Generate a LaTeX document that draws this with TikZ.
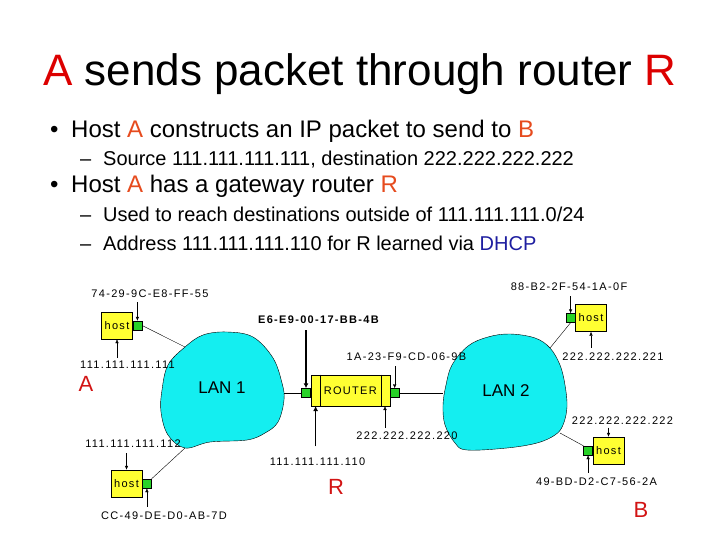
\documentclass[tikz,border=0pt]{standalone}
\usepackage{fontspec}
\setmainfont{Liberation Sans}
\newfontfamily\lblfont[LetterSpace=12]{Liberation Sans}
\usetikzlibrary{arrows.meta, positioning}
\definecolor{titlered}{RGB}{220,0,0}
\definecolor{hilite}{RGB}{230,75,30}
\definecolor{dhcpblue}{RGB}{30,30,160}
\definecolor{lanfill}{RGB}{20,238,240}
\definecolor{boxyellow}{RGB}{255,255,50}
\definecolor{nicgreen}{RGB}{40,210,40}
\definecolor{markred}{RGB}{210,20,20}
\tikzset{
  hostbox/.style={rectangle, draw=black, fill=boxyellow,
    minimum width=31pt, minimum height=27pt, inner sep=0pt,
    font=\lblfont\fontsize{11}{13}\selectfont},
  nic/.style={rectangle, draw=black, fill=nicgreen,
    minimum size=9pt, inner sep=0pt},
  addr/.style={font=\lblfont\fontsize{11}{13}\selectfont, inner sep=1pt},
  tip/.style={-{Latex[length=4pt,width=3.5pt]}, thin},
  bigtip/.style={-{Latex[length=5pt,width=5pt]}, line width=1.6pt},
  wire/.style={thin},
  lan/.style={draw=black, fill=lanfill, thin},
  redmark/.style={text=markred, font=\fontsize{22}{26}\selectfont},
  item/.style={anchor=base west, inner sep=0pt, font=\fontsize{24}{28}\selectfont},
  subitem/.style={anchor=base west, inner sep=0pt, font=\fontsize{20}{24}\selectfont},
}

\begin{document}
\begin{tikzpicture}[x=1pt, y=-1pt]
  \useasboundingbox (0,0) rectangle (720,540);

  % title and bullets
  \node[anchor=base west, inner sep=0pt, font=\fontsize{44}{50}\selectfont] (title) at (43,86)
    {\textcolor{titlered}{A} sends packet through router \textcolor{titlered}{R}};
  \node[item] (b1) at (50,138)
    {\makebox[21pt][l]{\textbullet}Host \textcolor{hilite}{A} constructs an IP packet to send to \textcolor{hilite}{B}};
  \node[subitem] (s1) at (80,166)
    {\makebox[23pt][l]{--}Source 111.111.111.111, destination 222.222.222.222};
  \node[item] (b2) at (50,193)
    {\makebox[21pt][l]{\textbullet}Host \textcolor{hilite}{A} has a gateway router \textcolor{hilite}{R}};
  \node[subitem] (s2) at (80,222)
    {\makebox[23pt][l]{--}Used to reach destinations outside of 111.111.111.0/24};
  \node[subitem] (s3) at (80,251)
    {\makebox[23pt][l]{--}Address 111.111.111.110 for R learned via \textcolor{dhcpblue}{DHCP}};

  % the two LANs
  \draw[lan] plot[smooth cycle, tension=0.6] coordinates {
    (185,347) (203,335) (227,332) (253,337) (273,358) (282,383) (284,400)
    (278,422) (265,433) (247,440) (210,442) (185,448) (168,435) (161,412)
    (162,390) (168,365)};
  \draw[lan] plot[smooth cycle, tension=0.6] coordinates {
    (510,334) (535,338) (550,348) (560,365) (565,385) (567,407) (563,425)
    (555,435) (537,443) (507,448) (467,450) (455,443) (445,425) (443,405)
    (446,385) (452,365) (468,346) (488,337)};
  \node[font=\fontsize{17}{20}\selectfont] (lan1) at (222,388) {LAN 1};
  \node[font=\fontsize{17}{20}\selectfont] (lan2) at (506,391) {LAN 2};
  \coordinate (lan1nw) at (185,347);
  \coordinate (lan1sw) at (185,448);
  \coordinate (lan1e) at (284,393);
  \coordinate (lan2w) at (443,393);
  \coordinate (lan2ne) at (550,348);
  \coordinate (lan2se) at (560,433);

  % hosts
  \node[hostbox] (hostA) at (117,325.5) {host};
  \node[nic, right=0pt of hostA] (nicA) {};
  \node[hostbox] (hostC) at (126.5,483.5) {host};
  \node[nic, right=0pt of hostC] (nicC) {};
  \node[hostbox] (hostD) at (591,318) {host};
  \node[nic, left=0pt of hostD] (nicD) {};
  \node[hostbox] (hostB) at (608.5,450.5) {host};
  \node[nic, left=0pt of hostB] (nicB) {};

  % router
  \node[hostbox, minimum width=79pt, minimum height=31pt] (rtr) at (350.3,390.3) {ROUTER};
  \draw ([xshift=10pt]rtr.north west) -- ([xshift=10pt]rtr.south west);
  \draw ([xshift=-9pt]rtr.north east) -- ([xshift=-9pt]rtr.south east);
  \node[nic] (nicR1) at (306,393) {};
  \node[nic] (nicR2) at (394.7,393) {};
  \coordinate (rtrS1) at ([xshift=5pt]rtr.south west);
  \coordinate (rtrS2) at ([xshift=-5pt]rtr.south east);

  % wires
  \draw[wire] (nicA.east) -- (lan1nw);
  \draw[wire] (nicC.north east) -- (lan1sw);
  \draw[wire] (lan1e) -- (nicR1.west);
  \draw[wire] (nicR2.east) -- (lan2w);
  \draw[wire] (nicD.south) -- (lan2ne);
  \draw[wire] (nicB.north west) -- (lan2se);

  % addresses
  \node[addr] (macA) at (150,294) {74-29-9C-E8-FF-55};
  \node[addr] (ipA) at (127.5,365) {111.111.111.111};
  \node[addr, font=\lblfont\bfseries\fontsize{11}{13}\selectfont] (macR1) at (318.5,320) {E6-E9-00-17-BB-4B};
  \node[addr] (macR2) at (406.5,357) {1A-23-F9-CD-06-9B};
  \node[addr] (ipR1) at (317.5,461.5) {111.111.111.110};
  \node[addr] (ipR2) at (407,436) {222.222.222.220};
  \node[addr] (macD) at (569,287) {88-B2-2F-54-1A-0F};
  \node[addr] (ipD) at (613,357) {222.222.222.221};
  \node[addr] (ipB) at (622.5,420.7) {222.222.222.222};
  \node[addr] (macB) at (596.5,481.7) {49-BD-D2-C7-56-2A};
  \node[addr] (ipC) at (133,444) {111.111.111.112};
  \node[addr] (macC) at (164,516) {CC-49-DE-D0-AB-7D};

  \coordinate (macAs) at ([yshift=-3pt]macA.south);
  \coordinate (ipAn) at ([yshift=2pt]ipA.north);
  \coordinate (macR1s) at ([yshift=-5pt]macR1.south);
  \coordinate (macR2s) at ([yshift=-4pt]macR2.south);
  \coordinate (ipR1n) at ([yshift=10pt]ipR1.north);
  \coordinate (ipR2n) at ([yshift=3pt]ipR2.north);
  \coordinate (macDs) at ([yshift=-4pt]macD.south);
  \coordinate (ipDn) at ([yshift=4pt]ipD.north);
  \coordinate (ipBs) at ([yshift=-2pt]ipB.south);
  \coordinate (macBn) at ([yshift=4pt]macB.north);
  \coordinate (ipCs) at ([yshift=-4pt]ipC.south);
  \coordinate (macCn) at ([yshift=4pt]macC.north);

  \draw[tip] (macAs -| nicA.north) -- (nicA.north);
  \draw[tip] (ipAn -| hostA.south) -- (hostA.south);
  \draw[bigtip] (macR1s -| nicR1.north) -- (nicR1.north);
  \draw[tip] (macR2s -| nicR2.north) -- (nicR2.north);
  \draw[bigtip] (ipR1n -| rtrS1) -- (rtrS1);
  \draw[tip] (ipR2n -| rtrS2) -- (rtrS2);
  \draw[tip] (macDs -| nicD.north) -- (nicD.north);
  \draw[tip] (ipDn -| hostD.south) -- (hostD.south);
  \draw[tip] (ipBs -| hostB.north) -- (hostB.north);
  \draw[tip] (macBn -| nicB.south) -- (nicB.south);
  \draw[tip] (ipCs -| hostC.north) -- (hostC.north);
  \draw[tip] (macCn -| nicC.south) -- (nicC.south);

  % A, R, B
  \node[redmark] (markA) at (86,384) {A};
  \node[redmark] (markR) at (336,487) {R};
  \node[redmark] (markB) at (641,510) {B};
\end{tikzpicture}
\end{document}
